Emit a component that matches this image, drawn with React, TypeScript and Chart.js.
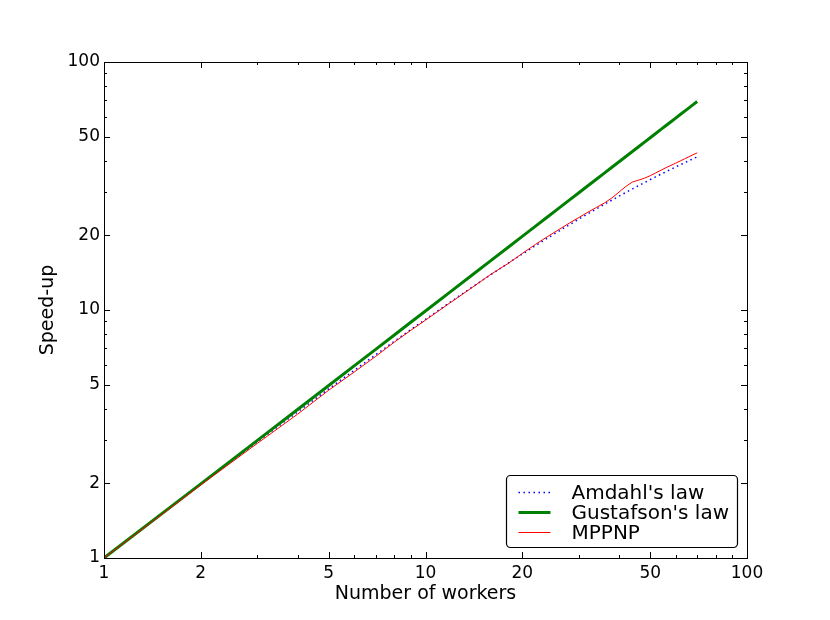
import React, { useEffect, useRef } from "react";
import { Chart, registerables } from "chart.js";

Chart.register(...registerables);

const workers = [1, 2, 3, 4, 5, 6, 7, 8, 9, 10, 12, 14, 16, 18, 20, 22, 24, 26, 28, 30, 32, 34, 36, 38, 40, 42, 44, 46, 48, 50, 52, 54, 56, 58, 60, 62, 64, 66, 68, 70];

const amdahl = [1, 1.98, 2.94, 3.88, 4.81, 5.71, 6.6, 7.48, 8.33, 9.17, 10.81, 12.39, 13.91, 15.38, 16.81, 18.18, 19.51, 20.8, 22.05, 23.26, 24.43, 25.56, 26.67, 27.74, 28.78, 29.79, 30.77, 31.72, 32.65, 33.56, 34.44, 35.29, 36.13, 36.94, 37.74, 38.51, 39.26, 40.0, 40.72, 41.42];

const gustafson = [1, 1.99, 2.98, 3.97, 4.96, 5.95, 6.94, 7.93, 8.92, 9.91, 11.89, 13.87, 15.85, 17.83, 19.81, 21.79, 23.77, 25.75, 27.73, 29.71, 31.69, 33.67, 35.65, 37.63, 39.61, 41.59, 43.57, 45.55, 47.53, 49.51, 51.49, 53.47, 55.45, 57.43, 59.41, 61.39, 63.37, 65.35, 67.33, 69.31];

const mppnp = [1, 1.97, 2.9, 3.8, 4.75, 5.62, 6.5, 7.42, 8.28, 9.1, 10.75, 12.35, 13.95, 15.35, 16.9, 18.4, 19.8, 21.1, 22.4, 23.6, 24.8, 25.9, 27.0, 28.3, 29.9, 31.5, 32.8, 33.4, 34.0, 34.8, 35.7, 36.6, 37.5, 38.3, 39.1, 39.9, 40.7, 41.5, 42.3, 43.0];

const seriesNames = ["Amdahl's law", "Gustafson's law", "MPPNP"];
const xTickLabels = [1, 2, 5, 10, 20, 50, 100];
const yTickLabels = [1, 2, 5, 10, 20, 50, 100];
const xTitle = "Number of workers";
const yTitle = "Speed-up";

const FONT = "'DejaVu Sans', sans-serif";

function pts(ys: number[]) {
  return workers.map((x, i) => ({ x, y: ys[i] }));
}

function allLogTicks(min: number, max: number) {
  const out: number[] = [];
  for (let d = 1; d < max; d *= 10) {
    for (let m = 1; m < 10; m++) {
      const v = m * d;
      if (v >= min && v <= max) out.push(v);
    }
  }
  out.push(max);
  return out;
}

const framePlugin = {
  id: "frameTicks",
  afterDatasetsDraw(chart: any) {
    const { ctx, chartArea } = chart;
    const { left, right, top, bottom } = chartArea;
    const xs = chart.scales.x;
    const ys = chart.scales.y;
    ctx.save();
    ctx.strokeStyle = "#000";
    ctx.lineWidth = 1;
    // ticks
    ctx.beginPath();
    for (const v of allLogTicks(1, 100)) {
      const major = xTickLabels.includes(v);
      const len = major ? 6 : 3;
      const px = Math.round(xs.getPixelForValue(v)) + 0.5;
      ctx.moveTo(px, bottom);
      ctx.lineTo(px, bottom - len);
      ctx.moveTo(px, top);
      ctx.lineTo(px, top + len);
    }
    for (const v of allLogTicks(1, 100)) {
      const major = yTickLabels.includes(v);
      const len = major ? 6 : 3;
      const py = Math.round(ys.getPixelForValue(v)) + 0.5;
      ctx.moveTo(left, py);
      ctx.lineTo(left + len, py);
      ctx.moveTo(right, py);
      ctx.lineTo(right - len, py);
    }
    ctx.stroke();
    ctx.strokeRect(Math.round(left) + 0.5, Math.round(top) + 0.5, Math.round(right - left), Math.round(bottom - top));

    // legend
    const bw = 231;
    const bh = 72;
    const bx = Math.round(right) - 10 - bw + 0.5;
    const by = Math.round(bottom) - 11 - bh + 0.5;
    const r = 4;
    ctx.beginPath();
    ctx.moveTo(bx + r, by);
    ctx.lineTo(bx + bw - r, by);
    ctx.arcTo(bx + bw, by, bx + bw, by + r, r);
    ctx.lineTo(bx + bw, by + bh - r);
    ctx.arcTo(bx + bw, by + bh, bx + bw - r, by + bh, r);
    ctx.lineTo(bx + r, by + bh);
    ctx.arcTo(bx, by + bh, bx, by + bh - r, r);
    ctx.lineTo(bx, by + r);
    ctx.arcTo(bx, by, bx + r, by, r);
    ctx.closePath();
    ctx.fillStyle = "#fff";
    ctx.fill();
    ctx.strokeStyle = "#000";
    ctx.lineWidth = 1.2;
    ctx.stroke();

    const dsets = chart.data.datasets;
    for (let i = 0; i < dsets.length; i++) {
      const ds = dsets[i];
      const cy = by + 17 + i * 20;
      ctx.beginPath();
      ctx.strokeStyle = ds.borderColor;
      ctx.lineWidth = ds.borderWidth;
      ctx.setLineDash(ds.borderDash || []);
      ctx.moveTo(bx + 12, cy);
      ctx.lineTo(bx + 44, cy);
      ctx.stroke();
      ctx.setLineDash([]);
      ctx.fillStyle = "#000";
      ctx.font = "20px " + FONT;
      ctx.textBaseline = "middle";
      ctx.textAlign = "left";
      ctx.fillText(ds.label, bx + 65, cy + 1);
    }
    ctx.restore();
  },
};

export default function App() {
  const ref = useRef<HTMLCanvasElement | null>(null);
  useEffect(() => {
    document.body.style.margin = "0";
    const canvas = ref.current!;
    const chart = new Chart(canvas, {
      type: "line",
      data: {
        datasets: [
          {
            label: seriesNames[0],
            data: pts(amdahl),
            borderColor: "#0000ff",
            borderWidth: 1.5,
            borderDash: [1.5, 3.5],
            pointRadius: 0,
            fill: false,
            order: 2,
          },
          {
            label: seriesNames[1],
            data: pts(gustafson),
            borderColor: "#008000",
            borderWidth: 3,
            pointRadius: 0,
            fill: false,
            order: 1,
          },
          {
            label: seriesNames[2],
            data: pts(mppnp),
            borderColor: "#ff0000",
            borderWidth: 1,
            pointRadius: 0,
            fill: false,
            order: 0,
          },
        ],
      },
      options: {
        animation: false,
        responsive: false,
        devicePixelRatio: 1,
        layout: { padding: { top: 62, right: 83, left: 0, bottom: 0 } },
        plugins: {
          legend: { display: false },
          tooltip: { enabled: false },
        },
        scales: {
          x: {
            type: "logarithmic",
            min: 1,
            max: 100,
            afterFit: (s: any) => {
              s.height = 62;
            },
            afterBuildTicks: (s: any) => {
              s.ticks = xTickLabels.map((v) => ({ value: v, major: false }));
            },
            grid: { display: false, drawTicks: false },
            border: { display: false },
            ticks: {
              autoSkip: false,
              maxRotation: 0,
              padding: 5,
              color: "#000",
              font: { family: FONT, size: 17 },
              callback: (v: any) => String(v),
            },
            title: {
              display: true,
              text: xTitle,
              color: "#000",
              font: { family: FONT, size: 19 },
              padding: { top: 0, bottom: 15 },
            },
          },
          y: {
            type: "logarithmic",
            min: 1,
            max: 100,
            afterFit: (s: any) => {
              s.width = 104;
            },
            afterBuildTicks: (s: any) => {
              s.ticks = yTickLabels.map((v) => ({ value: v, major: false }));
            },
            grid: { display: false, drawTicks: false },
            border: { display: false },
            ticks: {
              autoSkip: false,
              padding: 4,
              color: "#000",
              font: { family: FONT, size: 17 },
              callback: (v: any) => String(v),
            },
            title: {
              display: true,
              text: yTitle,
              color: "#000",
              font: { family: FONT, size: 19 },
              padding: { top: 37, bottom: 0 },
            },
          },
        },
      },
      plugins: [framePlugin],
    } as any);
    return () => chart.destroy();
  }, []);
  return <canvas ref={ref} width={830} height={620} style={{ display: "block" }} />;
}
